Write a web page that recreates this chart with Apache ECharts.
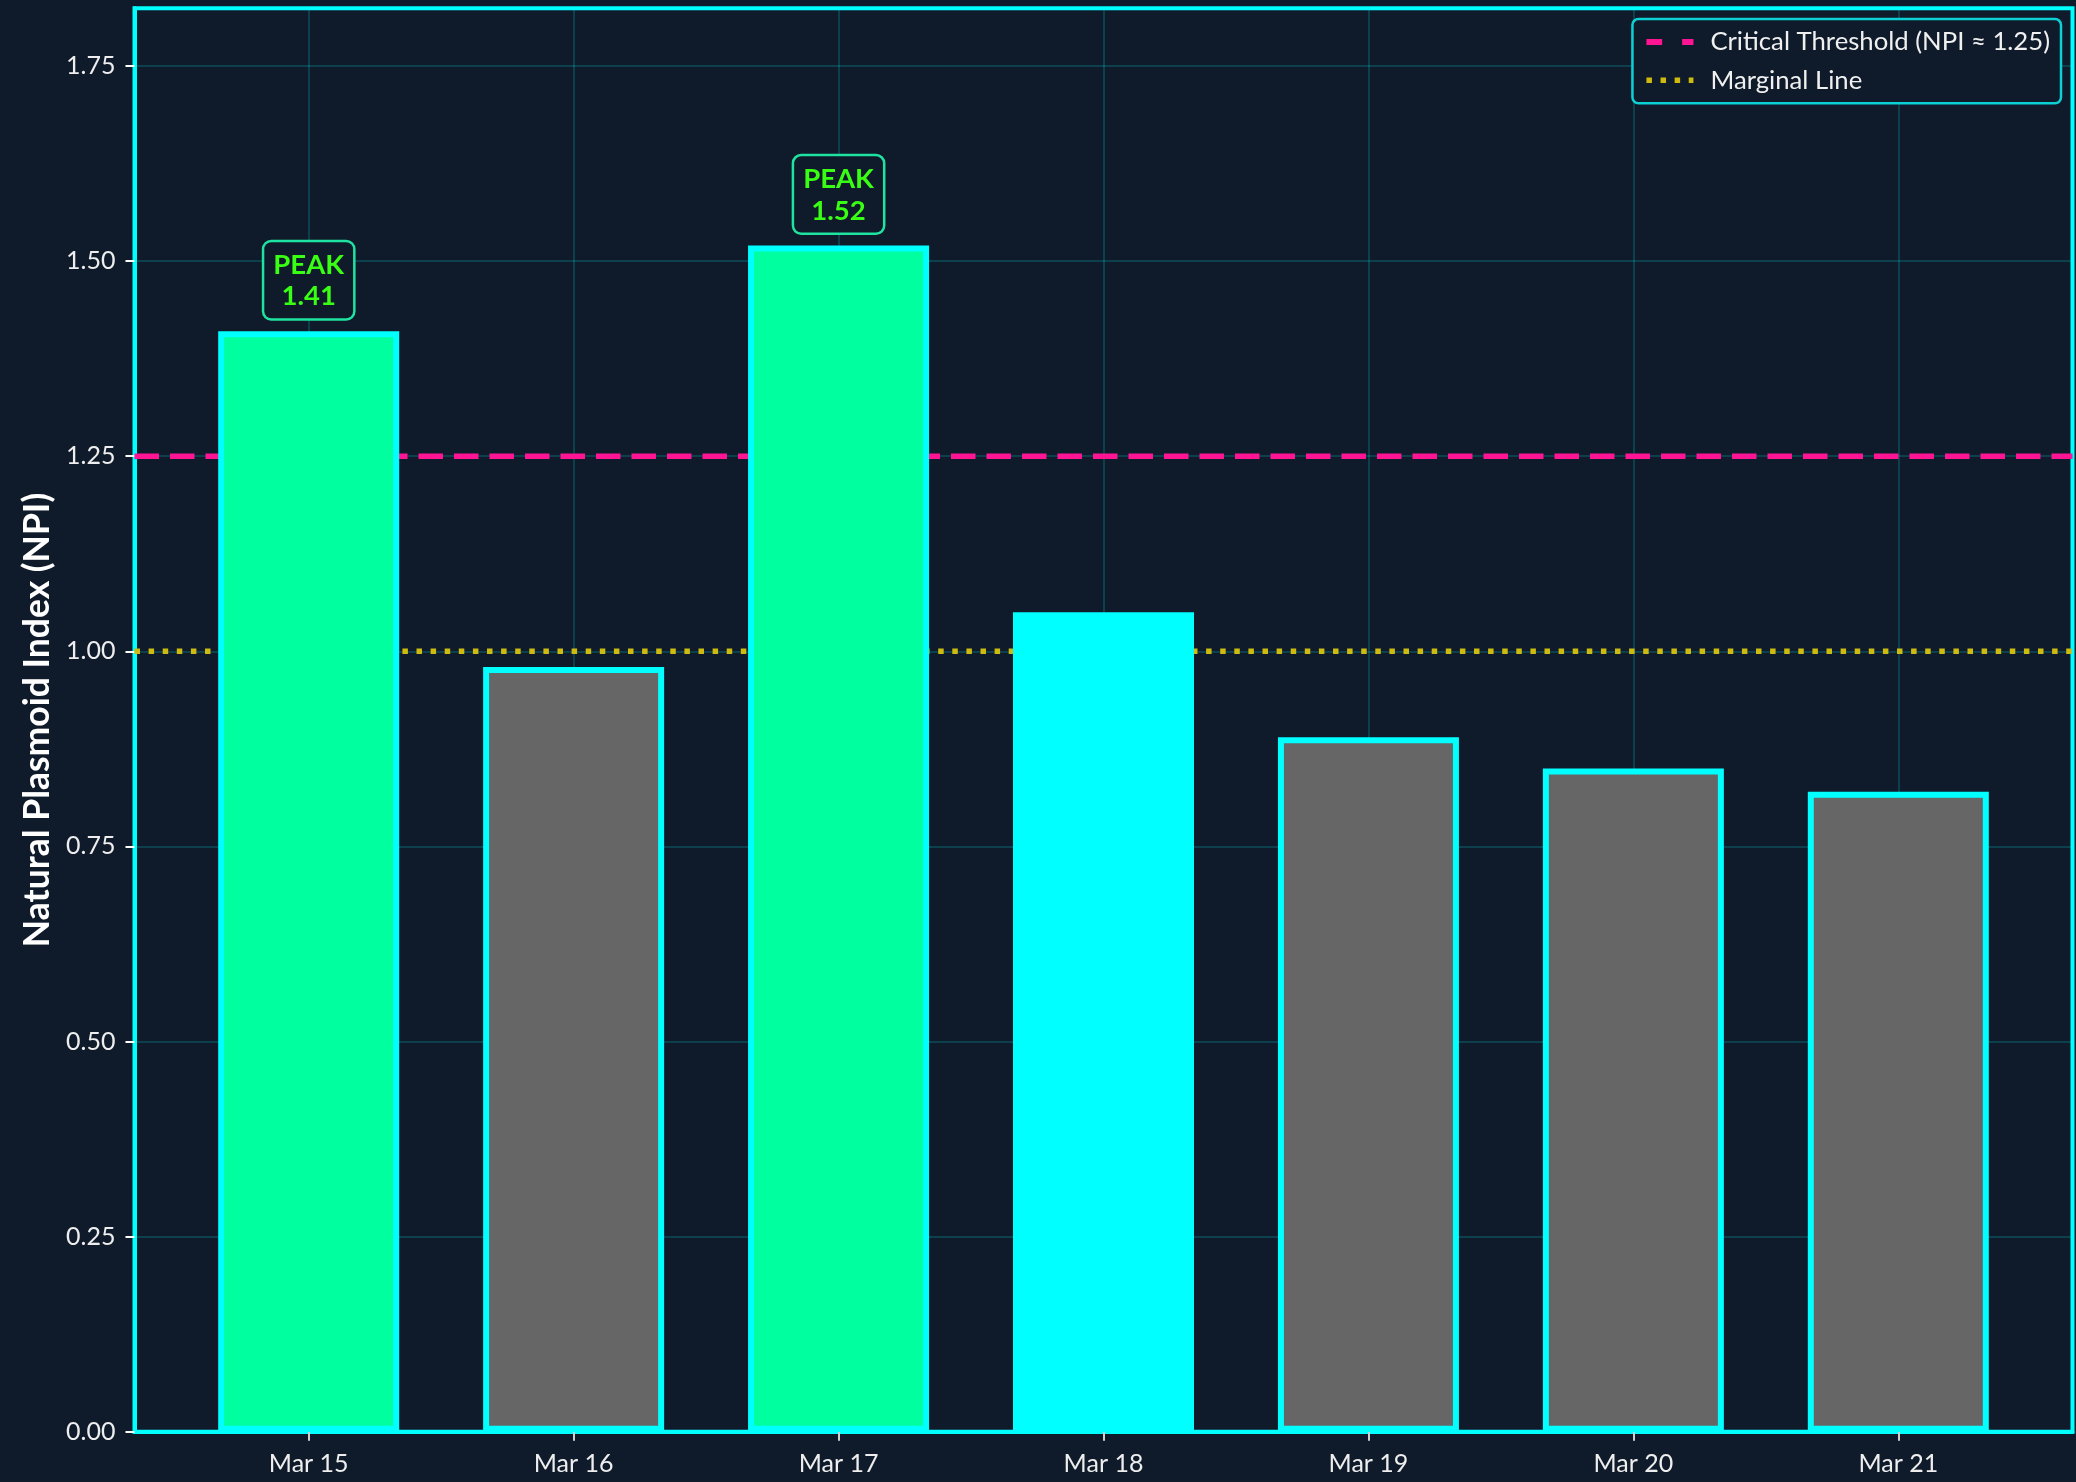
<!DOCTYPE html>
<html><head><meta charset="utf-8">
<script src="https://cdn.jsdelivr.net/npm/echarts@6/dist/echarts.min.js"></script>
<style>html,body{margin:0;padding:0;background:#0f1b2b;}#c{width:2076px;height:1482px;}</style>
</head><body><div id="c"></div>
<script>
const categories = ['Mar 15', 'Mar 16', 'Mar 17', 'Mar 18', 'Mar 19', 'Mar 20', 'Mar 21'];
const npiValues = [1.41, 0.98, 1.52, 1.05, 0.89, 0.85, 0.82];
const yTicks = [0, 0.25, 0.5, 0.75, 1.0, 1.25, 1.5, 1.75];
const criticalThreshold = 1.25;
const marginalLevel = 1.0;
const legendNames = ['Critical Threshold (NPI \u2248 1.25)', 'Marginal Line'];
const yTitle = 'Natural Plasmoid Index (NPI)';

const BG = '#0f1b2b';
const FONT = 'Lato, "Open Sans", sans-serif';
const xPad = 0.6575;
const xMin = -xPad, xMax = categories.length - 1 + xPad;
const yMax = Math.max(...npiValues) * 1.2;
const xTickVals = categories.map((c, i) => i);

function barColor(v) {
  if (v > criticalThreshold) return '#00ff9f';
  if (v > marginalLevel) return '#00ffff';
  return '#666666';
}

const barData = npiValues.map((v, i) => ({
  value: [i, v],
  itemStyle: { color: barColor(v) },
  label: { show: v > criticalThreshold }
}));

const chart = echarts.init(document.getElementById('c'), null, { renderer: 'canvas' });
chart.setOption({
  backgroundColor: BG,
  animation: false,
  grid: {
    left: 134.5, top: 8.3, width: 1938, height: 1423.4,
    show: true, borderColor: '#00ffff', borderWidth: 4, backgroundColor: BG
  },
  legend: {
    orient: 'vertical', right: 15, top: 19,
    padding: [10, 11, 10, 11], itemGap: 12.3,
    itemWidth: 47, itemHeight: 25,
    backgroundColor: BG, borderColor: '#0cd0d4', borderWidth: 2.5, borderRadius: 6,
    textStyle: { color: '#f0f0f0', fontSize: 25.7, fontFamily: FONT, padding: [0, 0, 0, 12] },
    data: [
      { name: legendNames[0], itemStyle: { opacity: 0 }, lineStyle: { type: [15.7, 20], width: 6 } },
      { name: legendNames[1], itemStyle: { opacity: 0 }, lineStyle: { type: [5.5, 8.6], width: 5.5 } }
    ]
  },
  xAxis: {
    type: 'value', min: xMin, max: xMax,
    axisLine: { show: true, onZero: false, lineStyle: { color: '#00ffff', width: 4 } },
    axisTick: { show: true, customValues: xTickVals, length: 9, lineStyle: { color: '#cfcfcf', width: 2 } },
    axisLabel: {
      customValues: xTickVals, margin: 20, color: '#eeeeee', fontSize: 25, fontFamily: FONT,
      formatter: v => categories[Math.round(v)]
    },
    splitLine: { show: true, lineStyle: { color: 'rgba(0,255,255,0.22)', width: 1.5 } }
  },
  yAxis: {
    type: 'value', min: 0, max: yMax,
    name: yTitle, nameLocation: 'middle', nameGap: 77,
    nameTextStyle: { color: '#ffffff', fontSize: 35.5, fontWeight: 'bold', fontFamily: FONT },
    axisLine: { show: true, onZero: false, lineStyle: { color: '#00ffff', width: 4 } },
    axisTick: { show: true, customValues: yTicks, length: 9, lineStyle: { color: '#ffffff', width: 2 } },
    axisLabel: {
      customValues: yTicks, margin: 19, color: '#eeeeee', fontSize: 25, fontFamily: FONT,
      formatter: v => v.toFixed(2)
    },
    splitLine: { show: true, lineStyle: { color: 'rgba(0,255,255,0.22)', width: 1.5 } }
  },
  series: [
    {
      name: legendNames[0], type: 'line', z: 1, symbol: 'none', silent: true,
      data: [[xMin, criticalThreshold], [xMax, criticalThreshold]],
      lineStyle: { color: '#ff1493', width: 5.5, type: [24.5, 11] },
      itemStyle: { color: '#ff1493' }
    },
    {
      name: legendNames[1], type: 'line', z: 1, symbol: 'none', silent: true,
      data: [[xMin, marginalLevel], [xMax, marginalLevel]],
      lineStyle: { color: '#cfbb10', width: 5.5, type: [5.5, 8.6] },
      itemStyle: { color: '#cfbb10' }
    },
    {
      name: 'NPI', type: 'bar', z: 3, barWidth: 181,
      data: barData,
      itemStyle: { borderColor: '#00ffff', borderWidth: 6 },
      label: {
        show: false, position: 'top', distance: 13,
        formatter: p => 'PEAK\n' + p.value[1].toFixed(2),
        color: '#39ff14', fontSize: 27.5, fontWeight: 'bold', fontFamily: FONT,
        lineHeight: 31.6, align: 'center',
        backgroundColor: BG, borderColor: '#1fe3a0', borderWidth: 2.5, borderRadius: 7,
        padding: [7, 9, 6, 9]
      }
    }
  ]
});
</script></body></html>
